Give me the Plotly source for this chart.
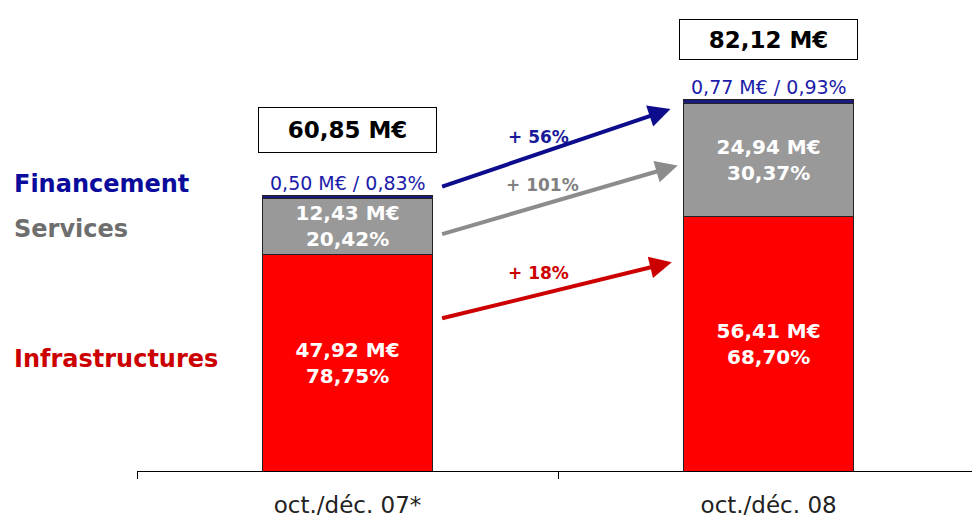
import plotly.graph_objects as go

# ---- data ----
periods = ["oct./déc. 07*", "oct./déc. 08"]
infrastructures = [47.92, 56.41]
services = [12.43, 24.94]
financement = [0.50, 0.77]
totals = [60.85, 82.12]
infra_pct = ["78,75%", "68,70%"]
services_pct = ["20,42%", "30,37%"]
fin_pct = ["0,83%", "0,93%"]
growth_labels = ["+ 56%", "+ 101%", "+ 18%"]
series_names = ["Financement", "Services", "Infrastructures"]


def fr(v):
    return f"{v:.2f}".replace(".", ",")


RED = "#ff0000"
GREY = "#999999"
BLUE = "#1a1a80"
FONT = "DejaVu Sans"

fig = go.Figure()
fig.add_bar(
    x=periods, y=infrastructures, name="Infrastructures",
    marker=dict(color=RED, line=dict(color="#222222", width=1)),
    text=[f"{fr(v)} M€<br>{p}" for v, p in zip(infrastructures, infra_pct)],
    textposition="inside", insidetextanchor="middle",
    textfont=dict(family=FONT, size=20, color="white", weight="bold"),
    width=0.404,
)
fig.add_bar(
    x=periods, y=services, name="Services",
    marker=dict(color=GREY, line=dict(color="#222222", width=1)),
    text=[f"{fr(v)} M€<br>{p}" for v, p in zip(services, services_pct)],
    textposition="inside", insidetextanchor="middle",
    textfont=dict(family=FONT, size=20, color="white", weight="bold"),
    width=0.404,
)
fig.add_bar(
    x=periods, y=financement, name="Financement",
    marker=dict(color=BLUE, line=dict(color="#222222", width=1)),
    width=0.404,
)

annotations = []
# total boxes
box_shift = [66, 60]
box_height = [44, 39]
for i, t in enumerate(totals):
    annotations.append(dict(
        x=i, y=t, xref="x", yref="y", yshift=box_shift[i],
        text=f"<b>{fr(t)} M€</b>", showarrow=False,
        font=dict(family=FONT, size=23, color="black"),
        bordercolor="black", borderwidth=1, borderpad=0, bgcolor="white",
        width=177, height=box_height[i], xanchor="center", yanchor="middle",
    ))
# financement labels above bars
for i, (f, p) in enumerate(zip(financement, fin_pct)):
    annotations.append(dict(
        x=i, y=totals[i], xref="x", yref="y", yshift=13,
        text=f"{fr(f)} M€ / {p}", showarrow=False,
        font=dict(family=FONT, size=19, color="#1c1caa"),
        xanchor="center", yanchor="middle",
    ))
# series labels on the left
label_colors = ["#0c0c9c", "#6e6e6e", "#cc0000"]
label_y = [63.5, 53.6, 24.7]
for name, c, yy in zip(series_names, label_colors, label_y):
    annotations.append(dict(
        x=-0.1497, y=yy, xref="paper", yref="y",
        text=f"<b>{name}</b>", showarrow=False,
        font=dict(family=FONT, size=24, color=c),
        xanchor="left", yanchor="middle",
    ))
# growth arrows
arrow_colors = ["#0c0c8c", "#8c8c8c", "#cc0000"]
arrow_tail = [(0.221, 62.8), (0.221, 52.3), (0.221, 33.7)]
arrow_head = [(0.767, 80.1), (0.784, 67.6), (0.770, 46.2)]
for c, (tx, ty), (hx, hy) in zip(arrow_colors, arrow_tail, arrow_head):
    annotations.append(dict(
        x=hx, y=hy, ax=tx, ay=ty, xref="x", yref="y", axref="x", ayref="y",
        text="", showarrow=True, arrowhead=2, arrowsize=1.1, arrowwidth=4,
        arrowcolor=c, standoff=0,
    ))
growth_colors = ["#1a1a99", "#808080", "#cc0000"]
growth_pos = [(0.454, 74.0), (0.463, 63.3), (0.454, 43.8)]
for txt, c, (gx, gy) in zip(growth_labels, growth_colors, growth_pos):
    annotations.append(dict(
        x=gx, y=gy, xref="x", yref="y", text=f"<b>{txt}</b>", showarrow=False,
        font=dict(family=FONT, size=17, color=c),
        xanchor="center", yanchor="middle",
    ))

fig.update_layout(
    barmode="stack",
    width=972, height=518,
    margin=dict(l=137, r=0, t=0, b=42),
    paper_bgcolor="white", plot_bgcolor="white",
    showlegend=False,
    annotations=annotations,
    font=dict(family=FONT),
)
fig.update_xaxes(
    type="category", range=[-0.5, 1.483],
    showline=True, linecolor="black", linewidth=1,
    ticks="outside", ticklen=7, tickcolor="black", tickwidth=1,
    tickson="boundaries", ticklabelstandoff=13,
    tickfont=dict(family=FONT, size=23, color="#222222"),
    showgrid=False, zeroline=False,
)
fig.update_yaxes(range=[0, 104.2], visible=False, showgrid=False)

fig.write_html(
    "out.html",
    config={"displayModeBar": False},
    post_script="document.body.style.margin='0';document.body.style.overflow='hidden';",
)
